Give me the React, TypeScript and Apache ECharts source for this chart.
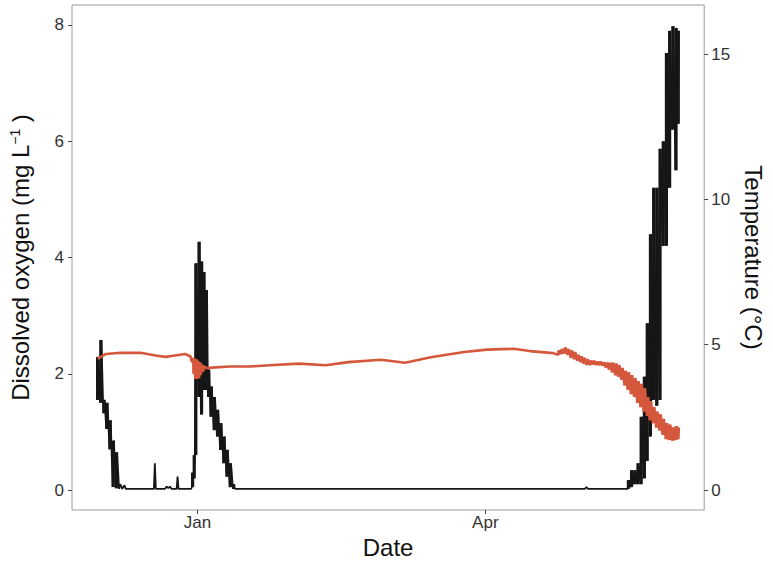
import React, { useEffect, useRef } from "react";
import * as echarts from "echarts";

// x values are days since 1 Jan 2015
const xTickDays = [0, 90];
const xTickLabels = ["Jan", "Apr"];
const doTicks = [0, 2, 4, 6, 8];
const tempTicks = [0, 5, 10, 15];

// Dissolved oxygen (mg/L): day, daily low, daily high (low === high -> single reading)
const doDay = [
  -31.4, -30.4, -29.4, -28.5, -27.5, -26.5, -25.5, -24.5, -23.5, -22.8, -22.4,
  -13.6, -13.3, -13.0, -10.1, -9.6, -9.1, -8.6, -8.1, -6.5, -6.2, -5.9, -2.0,
  -1.7, -1.2, -0.7, 0.3, 1.1, 1.8, 2.6, 3.3, 4.1, 5.1, 6.1, 7.1, 8.1, 9.1, 10.1, 11.1, 11.7,
  121.1, 121.6, 122.1, 134.1,
  134.5, 135.5, 136.5, 137.5, 138.5, 139.5, 140.4, 141.4, 142.4, 143.4, 144.4, 145.4,
  146.4, 147.4, 148.4, 149.4, 150.1,
];
const doLow = [
  1.55, 1.5, 1.32, 1.05, 0.7, 0.05, 0.03, 0.02, 0.02, 0.08, 0.02,
  0.02, 0.46, 0.02, 0.02, 0.06, 0.03, 0.06, 0.02, 0.02, 0.23, 0.02, 0.02,
  0.05, 0.2, 0.6, 1.6, 1.3, 1.72, 1.72, 1.6, 1.26, 1.03, 0.92, 0.69, 0.46, 0.23, 0.05, 0.02, 0.02,
  0.02, 0.05, 0.02, 0.02,
  0.02, 0.05, 0.1, 0.1, 0.1, 0.2, 0.5, 0.92, 1.55, 1.45, 1.55, 4.2,
  4.2, 5.2, 6.2, 5.5, 6.3,
];
const doHigh = [
  2.29, 2.58, 1.55, 1.5, 1.2, 0.85, 0.65, 0.1, 0.02, 0.08, 0.02,
  0.02, 0.46, 0.02, 0.02, 0.06, 0.03, 0.06, 0.02, 0.02, 0.23, 0.02, 0.02,
  0.3, 0.6, 3.9, 4.27, 3.93, 3.75, 3.44, 2.07, 1.78, 1.6, 1.38, 1.15, 0.92, 0.69, 0.46, 0.1, 0.02,
  0.02, 0.05, 0.02, 0.02,
  0.17, 0.34, 0.34, 0.46, 1.26, 1.95, 2.87, 4.4, 5.2, 5.2, 5.87, 6.0,
  7.52, 7.9, 7.98, 7.95, 7.9,
];

// Temperature (°C): day, daily low, daily high
const tempDay = [
  -31.2, -28.6, -24.0, -17.8, -13.1, -10.0, -7.0, -3.9, -2.2,
  -1.7, -1.2, -0.7, -0.2, 0.3, 0.8, 1.3, 1.8,
  2.8, 5.7, 10.1, 16.2, 22.5, 31.8, 40.1, 47.2, 57.4, 64.9, 72.9, 83.4, 90.5, 98.8, 103.9, 111.2,
  112.7, 113.7, 114.7, 115.7, 116.7, 117.7, 118.7, 119.7, 120.7, 121.6, 122.6, 123.6, 124.6,
  125.6, 126.6, 127.6, 128.6, 129.6, 130.6, 131.5, 132.5, 133.5, 134.5, 135.5, 136.5, 137.5,
  138.5, 139.5, 140.5, 141.4, 142.4, 143.4, 144.4, 145.4, 146.4, 147.4, 148.4, 149.4, 150.1,
];
const tempLow = [
  4.51, 4.68, 4.72, 4.72, 4.63, 4.58, 4.63, 4.68, 4.6,
  4.4, 4.0, 3.83, 3.83, 3.85, 3.95, 4.05, 4.1,
  4.2, 4.22, 4.25, 4.25, 4.29, 4.35, 4.29, 4.4, 4.48, 4.38, 4.57, 4.75, 4.83, 4.86, 4.78, 4.71,
  4.65, 4.68, 4.7, 4.65, 4.55, 4.5, 4.45, 4.4, 4.35, 4.3, 4.3, 4.32, 4.3,
  4.3, 4.28, 4.22, 4.15, 4.05, 3.95, 3.9, 3.8, 3.6, 3.45, 3.3, 3.2, 3.0,
  2.85, 2.7, 2.55, 2.4, 2.3, 2.15, 2.05, 1.9, 1.75, 1.72, 1.7, 1.72, 1.75,
];
const tempHigh = [
  4.51, 4.68, 4.72, 4.72, 4.63, 4.58, 4.63, 4.68, 4.6,
  4.55, 4.52, 4.5, 4.45, 4.4, 4.35, 4.3, 4.25,
  4.2, 4.22, 4.25, 4.25, 4.29, 4.35, 4.29, 4.4, 4.48, 4.38, 4.57, 4.75, 4.83, 4.86, 4.78, 4.71,
  4.8, 4.85, 4.9, 4.85, 4.8, 4.75, 4.65, 4.6, 4.55, 4.5, 4.45, 4.45, 4.42,
  4.42, 4.4, 4.38, 4.38, 4.38, 4.35, 4.3, 4.2, 4.1, 4.05, 3.95, 3.85, 3.75,
  3.65, 3.5, 3.2, 3.05, 2.85, 2.7, 2.6, 2.45, 2.3, 2.25, 2.15, 2.2, 2.15,
];

const FONT = "'Liberation Sans', Arial, Helvetica, sans-serif";
const DO_COLOR = "#161616";
const TEMP_COLOR = "#d5573c";

function buildTrace(days: number[], lows: number[], highs: number[]) {
  const pts: number[][] = [];
  days.forEach((d, i) => {
    pts.push([d, lows[i]]);
    if (highs[i] !== lows[i]) pts.push([d + 0.4, highs[i]]);
  });
  return pts;
}

function buildRanges(days: number[], lows: number[], highs: number[]) {
  const out: number[][] = [];
  days.forEach((d, i) => {
    if (highs[i] - lows[i] > 0.12) out.push([d, lows[i], highs[i]]);
  });
  return out;
}

function rangeRenderer(color: string, widthDays: number) {
  return (params: any, api: any) => {
    const d = api.value(0);
    const lo = api.value(1);
    const hi = api.value(2);
    const p1 = api.coord([d - widthDays * 0.3, hi]);
    const p2 = api.coord([d + widthDays * 0.7, lo]);
    return {
      type: "rect",
      shape: { x: p1[0], y: p1[1], width: p2[0] - p1[0], height: p2[1] - p1[1] },
      style: { fill: color },
    };
  };
}

export default function App() {
  const ref = useRef<HTMLDivElement>(null);

  useEffect(() => {
    document.body.style.margin = "0";
    if (!ref.current) return;
    const chart = echarts.init(ref.current, undefined, { renderer: "svg" });
    const tickStyle = { show: true, length: 4, lineStyle: { color: "#444", width: 1 } };
    const labelBase = { fontSize: 17, color: "#333", fontFamily: FONT };
    chart.setOption({
      animation: false,
      backgroundColor: "#ffffff",
      grid: {
        left: 71,
        right: 64,
        top: 5,
        bottom: 57,
        show: true,
        borderColor: "#9a9a9a",
        borderWidth: 1,
        backgroundColor: "transparent",
      },
      xAxis: {
        type: "value",
        min: -39.2,
        max: 158.4,
        name: "Date",
        nameLocation: "middle",
        nameGap: 25,
        nameTextStyle: { fontSize: 24, color: "#111", fontFamily: FONT },
        axisLine: { show: false, onZero: false },
        splitLine: { show: false },
        axisTick: { ...tickStyle, customValues: xTickDays },
        axisLabel: {
          ...labelBase,
          margin: 4,
          customValues: xTickDays,
          formatter: (v: number) => {
            const i = xTickDays.indexOf(v);
            return i >= 0 ? xTickLabels[i] : "";
          },
        },
      },
      yAxis: [
        {
          type: "value",
          position: "left",
          min: -0.344,
          max: 8.344,
          name: "{t|Dissolved oxygen (mg L}{s|−1}{t| )}",
          nameLocation: "middle",
          nameGap: 40,
          nameTextStyle: {
            fontSize: 24,
            color: "#111",
            fontFamily: FONT,
            rich: {
              t: { fontSize: 24, color: "#111", fontFamily: FONT },
              s: { fontSize: 14, color: "#111", fontFamily: FONT, verticalAlign: "top" },
            },
          },
          axisLine: { show: false, onZero: false },
          splitLine: { show: false },
          axisTick: { ...tickStyle, customValues: doTicks },
          axisLabel: { ...labelBase, margin: 8, customValues: doTicks },
        },
        {
          type: "value",
          position: "right",
          min: -0.688,
          max: 16.688,
          name: "Temperature (°C)",
          nameLocation: "middle",
          nameRotate: -90,
          nameGap: 30,
          nameTextStyle: { fontSize: 24, color: "#111", fontFamily: FONT },
          axisLine: { show: false, onZero: false },
          splitLine: { show: false },
          axisTick: { ...tickStyle, customValues: tempTicks },
          axisLabel: { ...labelBase, margin: 7, customValues: tempTicks },
        },
      ],
      series: [
        {
          name: "Dissolved oxygen range",
          type: "custom",
          yAxisIndex: 0,
          data: buildRanges(doDay, doLow, doHigh),
          renderItem: rangeRenderer(DO_COLOR, 1),
          encode: { x: 0, y: [1, 2] },
          z: 2,
        },
        {
          name: "Dissolved oxygen",
          type: "line",
          yAxisIndex: 0,
          data: buildTrace(doDay, doLow, doHigh),
          symbol: "none",
          lineStyle: { color: DO_COLOR, width: 1.8 },
          z: 2,
        },
        {
          name: "Temperature range",
          type: "custom",
          yAxisIndex: 1,
          data: buildRanges(tempDay, tempLow, tempHigh),
          renderItem: rangeRenderer(TEMP_COLOR, 0.9),
          encode: { x: 0, y: [1, 2] },
          z: 3,
        },
        {
          name: "Temperature",
          type: "line",
          yAxisIndex: 1,
          data: buildTrace(tempDay, tempLow, tempHigh),
          symbol: "none",
          lineStyle: { color: TEMP_COLOR, width: 2.6 },
          z: 3,
        },
      ],
    });
    return () => chart.dispose();
  }, []);

  return <div ref={ref} style={{ width: 773, height: 567 }} />;
}
